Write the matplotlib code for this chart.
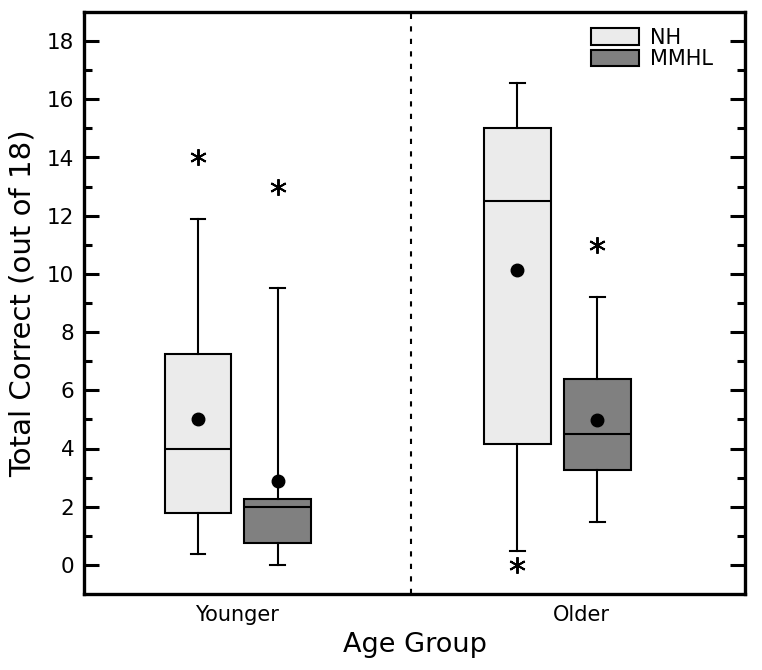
import matplotlib
matplotlib.use("Agg")
import matplotlib.pyplot as plt
from matplotlib.patches import Patch

# ---- data ----
age_groups = ["Younger", "Older"]
hearing = ["NH", "MMHL"]
# order: Younger-NH, Younger-MMHL, Older-NH, Older-MMHL
whisker_low = [0.37, 0.0, 0.47, 1.48]
q1 = [1.77, 0.75, 4.15, 3.27]
median = [4.0, 2.0, 12.5, 4.5]
q3 = [7.25, 2.25, 15.0, 6.4]
whisker_high = [11.9, 9.5, 16.55, 9.22]
mean = [5.0, 2.88, 10.15, 4.97]
outliers = [[14.0], [13.0], [0.0], [11.0]]

fill_colors = ["#ebebeb", "#808080", "#ebebeb", "#808080"]
legend_colors = ["#ebebeb", "#808080"]

fig = plt.figure(figsize=(7.62, 6.70), dpi=100)
ax = fig.add_axes([84 / 762, 76 / 670, 661 / 762, 582 / 670])

stats = []
for i in range(4):
    stats.append(dict(whislo=whisker_low[i], q1=q1[i], med=median[i], q3=q3[i],
                      whishi=whisker_high[i], mean=mean[i], fliers=outliers[i]))

positions = [0.690, 1.172, 2.622, 3.106]
bp = ax.bxp(stats, positions=positions, widths=0.405, patch_artist=True,
            showmeans=True, capwidths=0.09,
            boxprops=dict(linewidth=1.5, edgecolor="black"),
            medianprops=dict(color="black", linewidth=1.5),
            whiskerprops=dict(color="black", linewidth=1.5),
            capprops=dict(color="black", linewidth=1.5),
            meanprops=dict(marker="o", markerfacecolor="black", markeredgecolor="black", markersize=9),
            flierprops=dict(marker=(6, 2, 0), markeredgecolor="black", markerfacecolor="black",
                            markersize=12, markeredgewidth=1.4, linestyle="none"))
for patch, c in zip(bp["boxes"], fill_colors):
    patch.set_facecolor(c)

ax.axvline(1.977, color="black", linestyle=(0, (2.5, 3.5)), linewidth=1.5, zorder=0)

ax.set_xlim(0, 4)
ax.set_ylim(-1, 19)
ax.set_yticks(range(0, 19, 2))
ax.set_yticks(range(1, 19, 2), minor=True)
ax.set_xticks([0.923, 3.009])
ax.set_xticklabels(age_groups, fontsize=15)
ax.tick_params(axis="x", length=0, pad=8)
ax.tick_params(axis="y", which="major", direction="in", length=11, width=2.2,
               left=True, right=True, labelsize=15.5, pad=7)
ax.tick_params(axis="y", which="minor", direction="in", length=6, width=2.2,
               left=True, right=True)
for s in ax.spines.values():
    s.set_linewidth(2.4)

ax.set_ylabel("Total Correct (out of 18)", fontsize=21)
ax.yaxis.set_label_coords(-47 / 661, 0.5)
ax.set_xlabel("Age Group", fontsize=19.5, labelpad=5)

handles = [Patch(facecolor=c, edgecolor="black", linewidth=1.5) for c in legend_colors]
fig.legend(handles, hearing, loc="upper left", bbox_to_anchor=(591 / 762, 1 - 28 / 670),
           frameon=False, fontsize=15, handlelength=2.3, handleheight=0.85,
           handletextpad=0.55, labelspacing=0.05, borderpad=0, borderaxespad=0)

fig.savefig("out.png", dpi=100)
